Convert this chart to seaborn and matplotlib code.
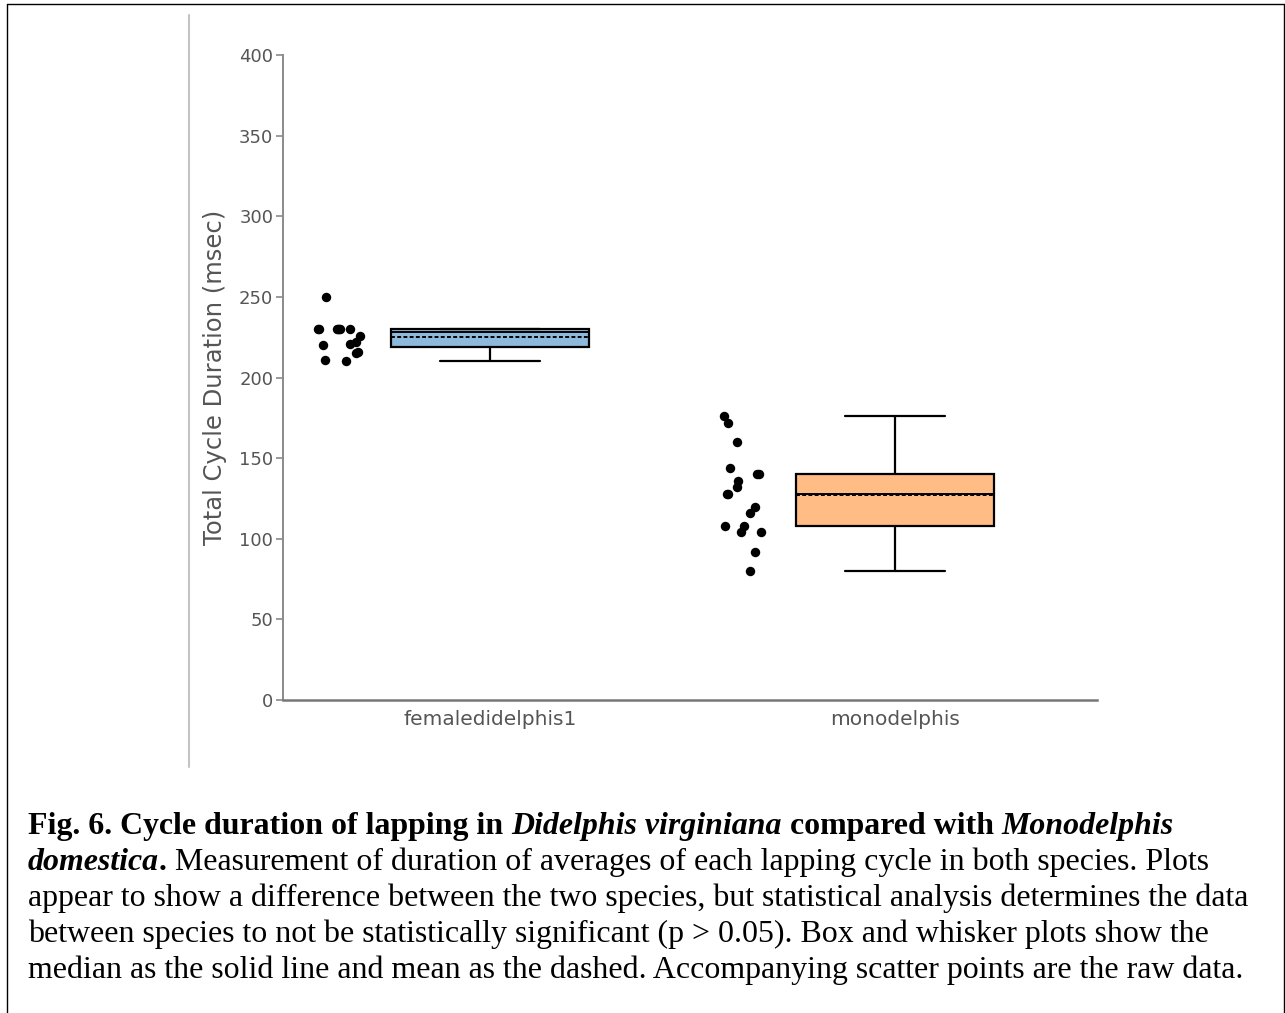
import numpy as np
import pandas as pd
import seaborn as sns
import matplotlib.pyplot as plt
from matplotlib.lines import Line2D

# ---------------- data ----------------
species = ["femaledidelphis1", "monodelphis"]
didelphis_ms = [250, 230, 230, 230, 230, 230, 230, 230, 226, 222, 221, 220,
                216, 215, 211, 210]
monodelphis_ms = [176, 172, 160, 144, 140, 140, 136, 132, 128, 128, 120, 116,
                  108, 108, 104, 104, 92, 80]
y_ticks = [0, 50, 100, 150, 200, 250, 300, 350, 400]
box_colors = ["#8dbadc", "#ffbd85"]
y_label = "Total Cycle Duration (msec)"

caption = [
    [("Fig. 6. Cycle duration of lapping in ", "bold", "normal"),
     ("Didelphis virginiana", "bold", "italic"),
     (" compared with ", "bold", "normal"),
     ("Monodelphis", "bold", "italic")],
    [("domestica", "bold", "italic"),
     (".", "bold", "normal"),
     (" Measurement of duration of averages of each lapping cycle in both species. Plots",
      "normal", "normal")],
    [("appear to show a difference between the two species, but statistical analysis determines the data",
      "normal", "normal")],
    [("between species to not be statistically significant (p > 0.05). Box and whisker plots show the",
      "normal", "normal")],
    [("median as the solid line and mean as the dashed. Accompanying scatter points are the raw data.",
      "normal", "normal")],
]

# ---------------- setup ----------------
sns.set_theme(style="white")
plt.rcParams["font.family"] = ["DejaVu Sans"]

W, H = 1285, 1013
fig = plt.figure(figsize=(W / 100, H / 100), dpi=100)
fig.patch.set_facecolor("white")

def fx(px):
    return px / W

def fy(py):
    return 1 - py / H

ax = fig.add_axes([fx(283), fy(700), (1097 - 283) / W, (700 - 55) / H])

df = pd.DataFrame({
    "species": [species[0]] * len(didelphis_ms) + [species[1]] * len(monodelphis_ms),
    "code": [0] * len(didelphis_ms) + [1] * len(monodelphis_ms),
    "duration": didelphis_ms + monodelphis_ms,
})
df["strip_x"] = df["code"] - 0.37

sns.boxplot(
    data=df, x="code", y="duration", hue="species", hue_order=species,
    palette=box_colors, saturation=1, native_scale=True, width=0.49,
    linecolor="black", linewidth=1.6, showfliers=False, whis=1.5,
    showmeans=True, meanline=True,
    meanprops=dict(color="black", linestyle=(0, (2, 1.2)), linewidth=1.4),
    medianprops=dict(color="black", linewidth=1.4),
    legend=False, ax=ax,
)

np.random.seed(11)
sns.stripplot(
    data=df, x="strip_x", y="duration", native_scale=True, color="black",
    size=6.8, jitter=0.055, linewidth=0, ax=ax, legend=False,
)

ax.set_xlim(-0.511, 1.499)
ax.set_ylim(0, 400)
ax.set_yticks(y_ticks)
ax.set_xticks([0, 1])
ax.set_xticklabels(species)
sns.despine(ax=ax)
ax.spines["left"].set_color("#8a8a8a")
ax.spines["left"].set_linewidth(1.4)
ax.spines["bottom"].set_color("#777777")
ax.spines["bottom"].set_linewidth(1.8)
ax.tick_params(axis="y", length=5, width=1.2, color="#8a8a8a", pad=2,
               labelsize=13, labelcolor="#555555", left=True)
ax.tick_params(axis="x", length=0, pad=7, labelsize=14.5, labelcolor="#555555")
ax.set_xlabel("")
ax.set_ylabel(y_label, fontsize=17.5, color="#555555", labelpad=9)
for c in ax.collections:
    c.set_clip_on(False)

# ---------------- decorations ----------------
fig.add_artist(Line2D([fx(189), fx(189)], [fy(15), fy(767)],
                      transform=fig.transFigure, color="#c4c4c4", lw=1.5))
frame_kw = dict(transform=fig.transFigure, color="black", lw=1.0)
fig.add_artist(Line2D([fx(7), fx(7)], [fy(4), fy(1013)], **frame_kw))
fig.add_artist(Line2D([fx(7), fx(1284)], [fy(4), fy(4)], **frame_kw))
fig.add_artist(Line2D([fx(1284), fx(1284)], [fy(4), fy(1013)], **frame_kw))

# ---------------- caption ----------------
renderer = fig.canvas.get_renderer()
serif = "Liberation Serif"

def text_width(s, size, weight, style):
    t1 = fig.text(0, 0, "|" + s + "|", fontsize=size, family=serif,
                  weight=weight, style=style)
    t2 = fig.text(0, 0, "||", fontsize=size, family=serif,
                  weight=weight, style=style)
    w = t1.get_window_extent(renderer).width - t2.get_window_extent(renderer).width
    t1.remove()
    t2.remove()
    return w

ref_w = text_width(caption[2][0][0], 20, "normal", "normal")
cap_size = 20 * (1250 - 28) / ref_w

baselines = [834, 870, 906, 942, 978]
for line, base in zip(caption, baselines):
    x = 28.0
    for s, weight, style in line:
        fig.text(fx(x), fy(base), s, fontsize=cap_size, family=serif,
                 weight=weight, style=style, va="baseline", ha="left",
                 color="black")
        x += text_width(s, cap_size, weight, style)

fig.savefig("out.png", dpi=100, facecolor="white")
